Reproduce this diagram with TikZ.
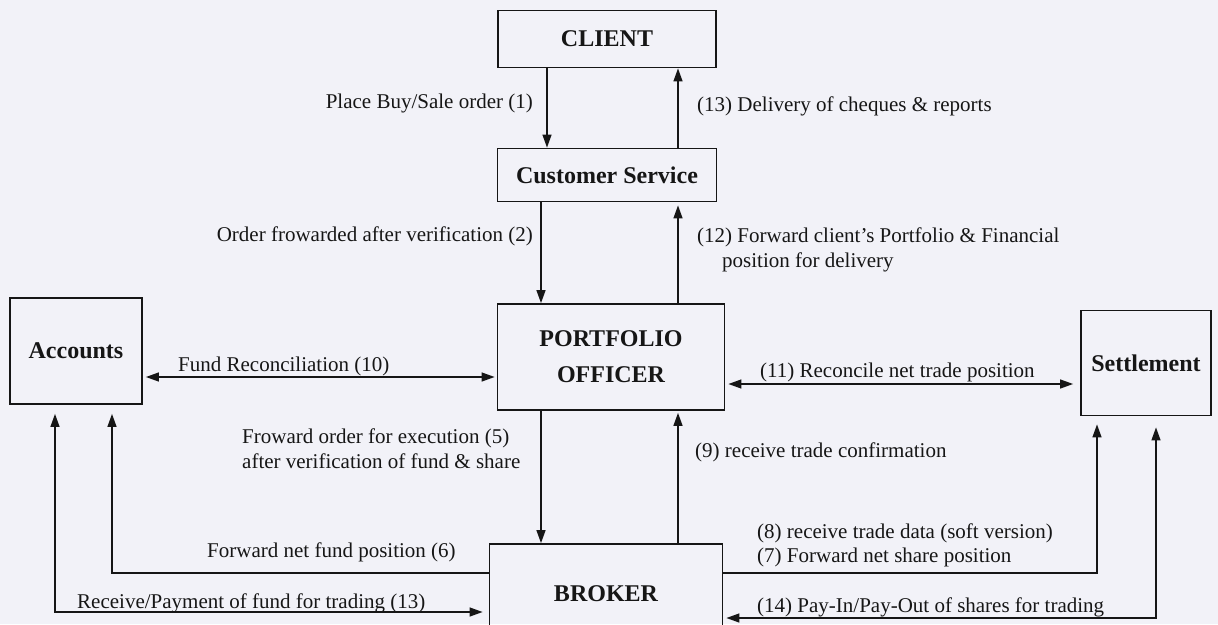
\documentclass[tikz,border=0pt]{standalone}
\usepackage{fontspec}
\setmainfont{Liberation Serif}
\usetikzlibrary{arrows.meta}
\definecolor{bg}{RGB}{242,242,248}
\definecolor{ink}{RGB}{22,22,22}
\begin{document}
\begin{tikzpicture}[x=1pt,y=-1pt,
  box/.style={draw=ink,line width=1.8pt,inner sep=0pt,font=\fontsize{24}{36}\selectfont\bfseries,text=ink,align=center},
  lbl/.style={inner sep=0pt,font=\fontsize{21}{25}\selectfont,text=ink},
  arr/.style={draw=ink,line width=1.3pt,-{Triangle[length=13pt,width=9pt]}},
  darr/.style={draw=ink,line width=1.3pt,{Triangle[length=13pt,width=9pt]}-{Triangle[length=13pt,width=9pt]}}]
\fill[bg] (0,0) rectangle (1218,624);
\useasboundingbox (0,0) rectangle (1218,624);

% boxes
\node[box,minimum width=218pt,minimum height=57pt] (client) at (607,39) {CLIENT};
\node[box,minimum width=219pt,minimum height=53pt] (cs) at (607,175) {Customer Service};
\node[box,minimum width=227pt,minimum height=106pt] (po) at (611,357) {PORTFOLIO\\OFFICER};
\node[box,minimum width=132pt,minimum height=106pt] (acc) at (76,351) {Accounts};
\node[box,minimum width=130pt,minimum height=105pt] (set) at (1146,363) {Settlement};
\node[box,minimum width=233pt,minimum height=100pt] (broker) at (606,594) {BROKER};

% helper coordinates
\coordinate (a1) at (547,0);
\coordinate (a13) at (678,0);
\coordinate (a2) at (541,0);
\coordinate (y10) at (0,377);
\coordinate (y11) at (0,384);
\coordinate (c6) at (112,573);
\coordinate (c13) at (55,612);
\coordinate (c7) at (1097,573);
\coordinate (c14) at (1156,618);

% vertical connectors
\draw[arr] (client.south -| a1) -- (cs.north -| a1);
\draw[arr] (cs.north -| a13) -- (client.south -| a13);
\draw[arr] (cs.south -| a2) -- (po.north -| a2);
\draw[arr,shorten >=3pt] (po.north -| a13) -- (cs.south -| a13);
\draw[arr] (po.south -| a2) -- (broker.north -| a2);
\draw[arr,shorten >=2pt] (broker.north -| a13) -- (po.south -| a13);

% horizontal double arrows
\draw[darr,shorten <=3pt,shorten >=2pt] (acc.east |- y10) -- (po.west |- y10);
\draw[darr,shorten <=3pt,shorten >=7pt] (po.east |- y11) -- (set.west |- y11);

% broker to accounts / settlement
\draw[arr,shorten >=9pt] (broker.west |- c6) -- (c6) -- (acc.south -| c6);
\draw[darr,shorten <=9pt,shorten >=6pt] (acc.south -| c13) -- (c13) -- (broker.west |- c13);
\draw[arr,shorten >=8pt] (broker.east |- c7) -- (c7) -- (set.south -| c7);
\draw[darr,shorten <=11pt,shorten >=3pt] (set.south -| c14) -- (c14) -- (broker.east |- c14);

% labels
\node[lbl,anchor=east] (l1) at (533,103) {Place Buy/Sale order (1)};
\node[lbl,anchor=west] (l13) at (697,106) {(13) Delivery of cheques \& reports};
\node[lbl,anchor=east] (l2) at (533,236) {Order frowarded after verification (2)};
\node[lbl,anchor=north west,align=left] (l12) at (697,228) {(12) Forward client's Portfolio \& Financial\\\hspace*{25pt}position for delivery};
\node[lbl,anchor=west] (l10) at (178,366) {Fund Reconciliation (10)};
\node[lbl,anchor=west] (l11) at (760,372) {(11) Reconcile net trade position};
\node[lbl,anchor=north west,align=left] (l5) at (242,429) {Froward order for execution (5)\\after verification of fund \& share};
\node[lbl,anchor=west] (l9) at (695,452) {(9) receive trade confirmation};
\node[lbl,anchor=west] (l6) at (207,552) {Forward net fund position (6)};
\node[lbl,anchor=west] (l13b) at (77,603) {Receive/Payment of fund for trading (13)};
\node[lbl,anchor=west] (l8) at (757,533) {(8) receive trade data (soft version)};
\node[lbl,anchor=west] (l7) at (757,557) {(7) Forward net share position};
\node[lbl,anchor=west] (l14) at (757,607) {(14) Pay-In/Pay-Out of shares for trading};
\end{tikzpicture}
\end{document}
